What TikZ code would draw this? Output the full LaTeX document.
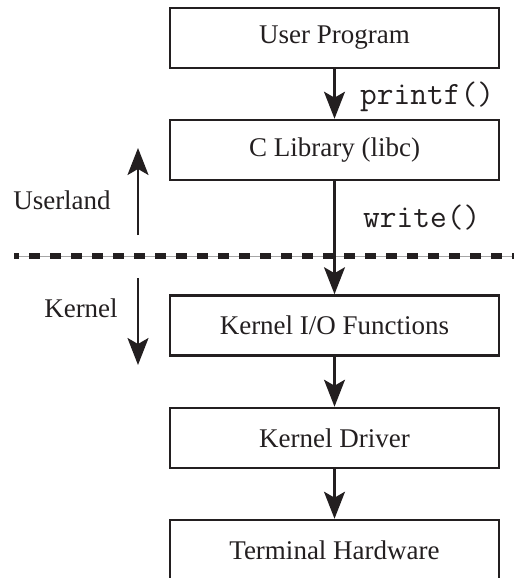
\documentclass[tikz,border=0pt]{standalone}
\usepackage{fontspec}
\setmainfont{Liberation Serif}
\usetikzlibrary{arrows.meta}
\definecolor{ink}{HTML}{231F20}
\tikzset{
  layer/.style={draw=ink, line width=2.6pt, minimum width=329pt, minimum height=60pt,
    inner sep=0pt, font=\fontsize{27}{32}\selectfont, text=ink},
  flow/.style={draw=ink, line width=2.2pt,
    -{Stealth[length=27pt, width=21pt, inset=6pt]}},
  call/.style={font=\ttfamily\fontsize{32.5}{38}\selectfont, text=ink, anchor=west, inner sep=0pt},
  side/.style={font=\fontsize{27}{32}\selectfont, text=ink, inner sep=0pt},
}
\begin{document}
\begin{tikzpicture}[x=1pt, y=-1pt]
  \useasboundingbox (0,0) rectangle (514,578);
  \clip (0,0) rectangle (514,578);

  % stack of layers
  \node[layer] (prog) at (334.5,38)  {User Program};
  \node[layer] (libc) at (334.5,150) {C Library (libc)};
  \node[layer] (kio)  at (334.5,325.5) {Kernel I/O Functions};
  \node[layer] (drv)  at (334.5,438) {Kernel Driver};
  \node[layer] (term) at (334.5,550) {Terminal Hardware};

  % userland / kernel boundary
  \coordinate (bl) at (14,256);
  \coordinate (br) at (514,256);
  \draw[gray!70, line width=1pt] (bl) -- (br);
  \draw[ink, line width=5.5pt, dash pattern=on 10.5pt off 10.5pt, dash phase=6pt] (bl) -- (br);

  % calls between layers
  \draw[flow] (prog) -- (libc);
  \draw[flow] (libc) -- (kio);
  \draw[flow] (kio) -- (drv);
  \draw[flow] (drv) -- (term);

  \node[call] (pf) at (360,97) {printf()};
  \node[call] (wr) at (363,218) {write()};

  % side markers
  \node[side] (ul) at (62,200) {Userland};
  \node[side] (kn) at (81,308) {Kernel};
  \coordinate (ua) at (138,235);
  \coordinate (ub) at (138,148);
  \coordinate (ka) at (138,278);
  \coordinate (kb) at (138,365);
  \draw[flow] (ua) -- (ub);
  \draw[flow] (ka) -- (kb);
\end{tikzpicture}
\end{document}
